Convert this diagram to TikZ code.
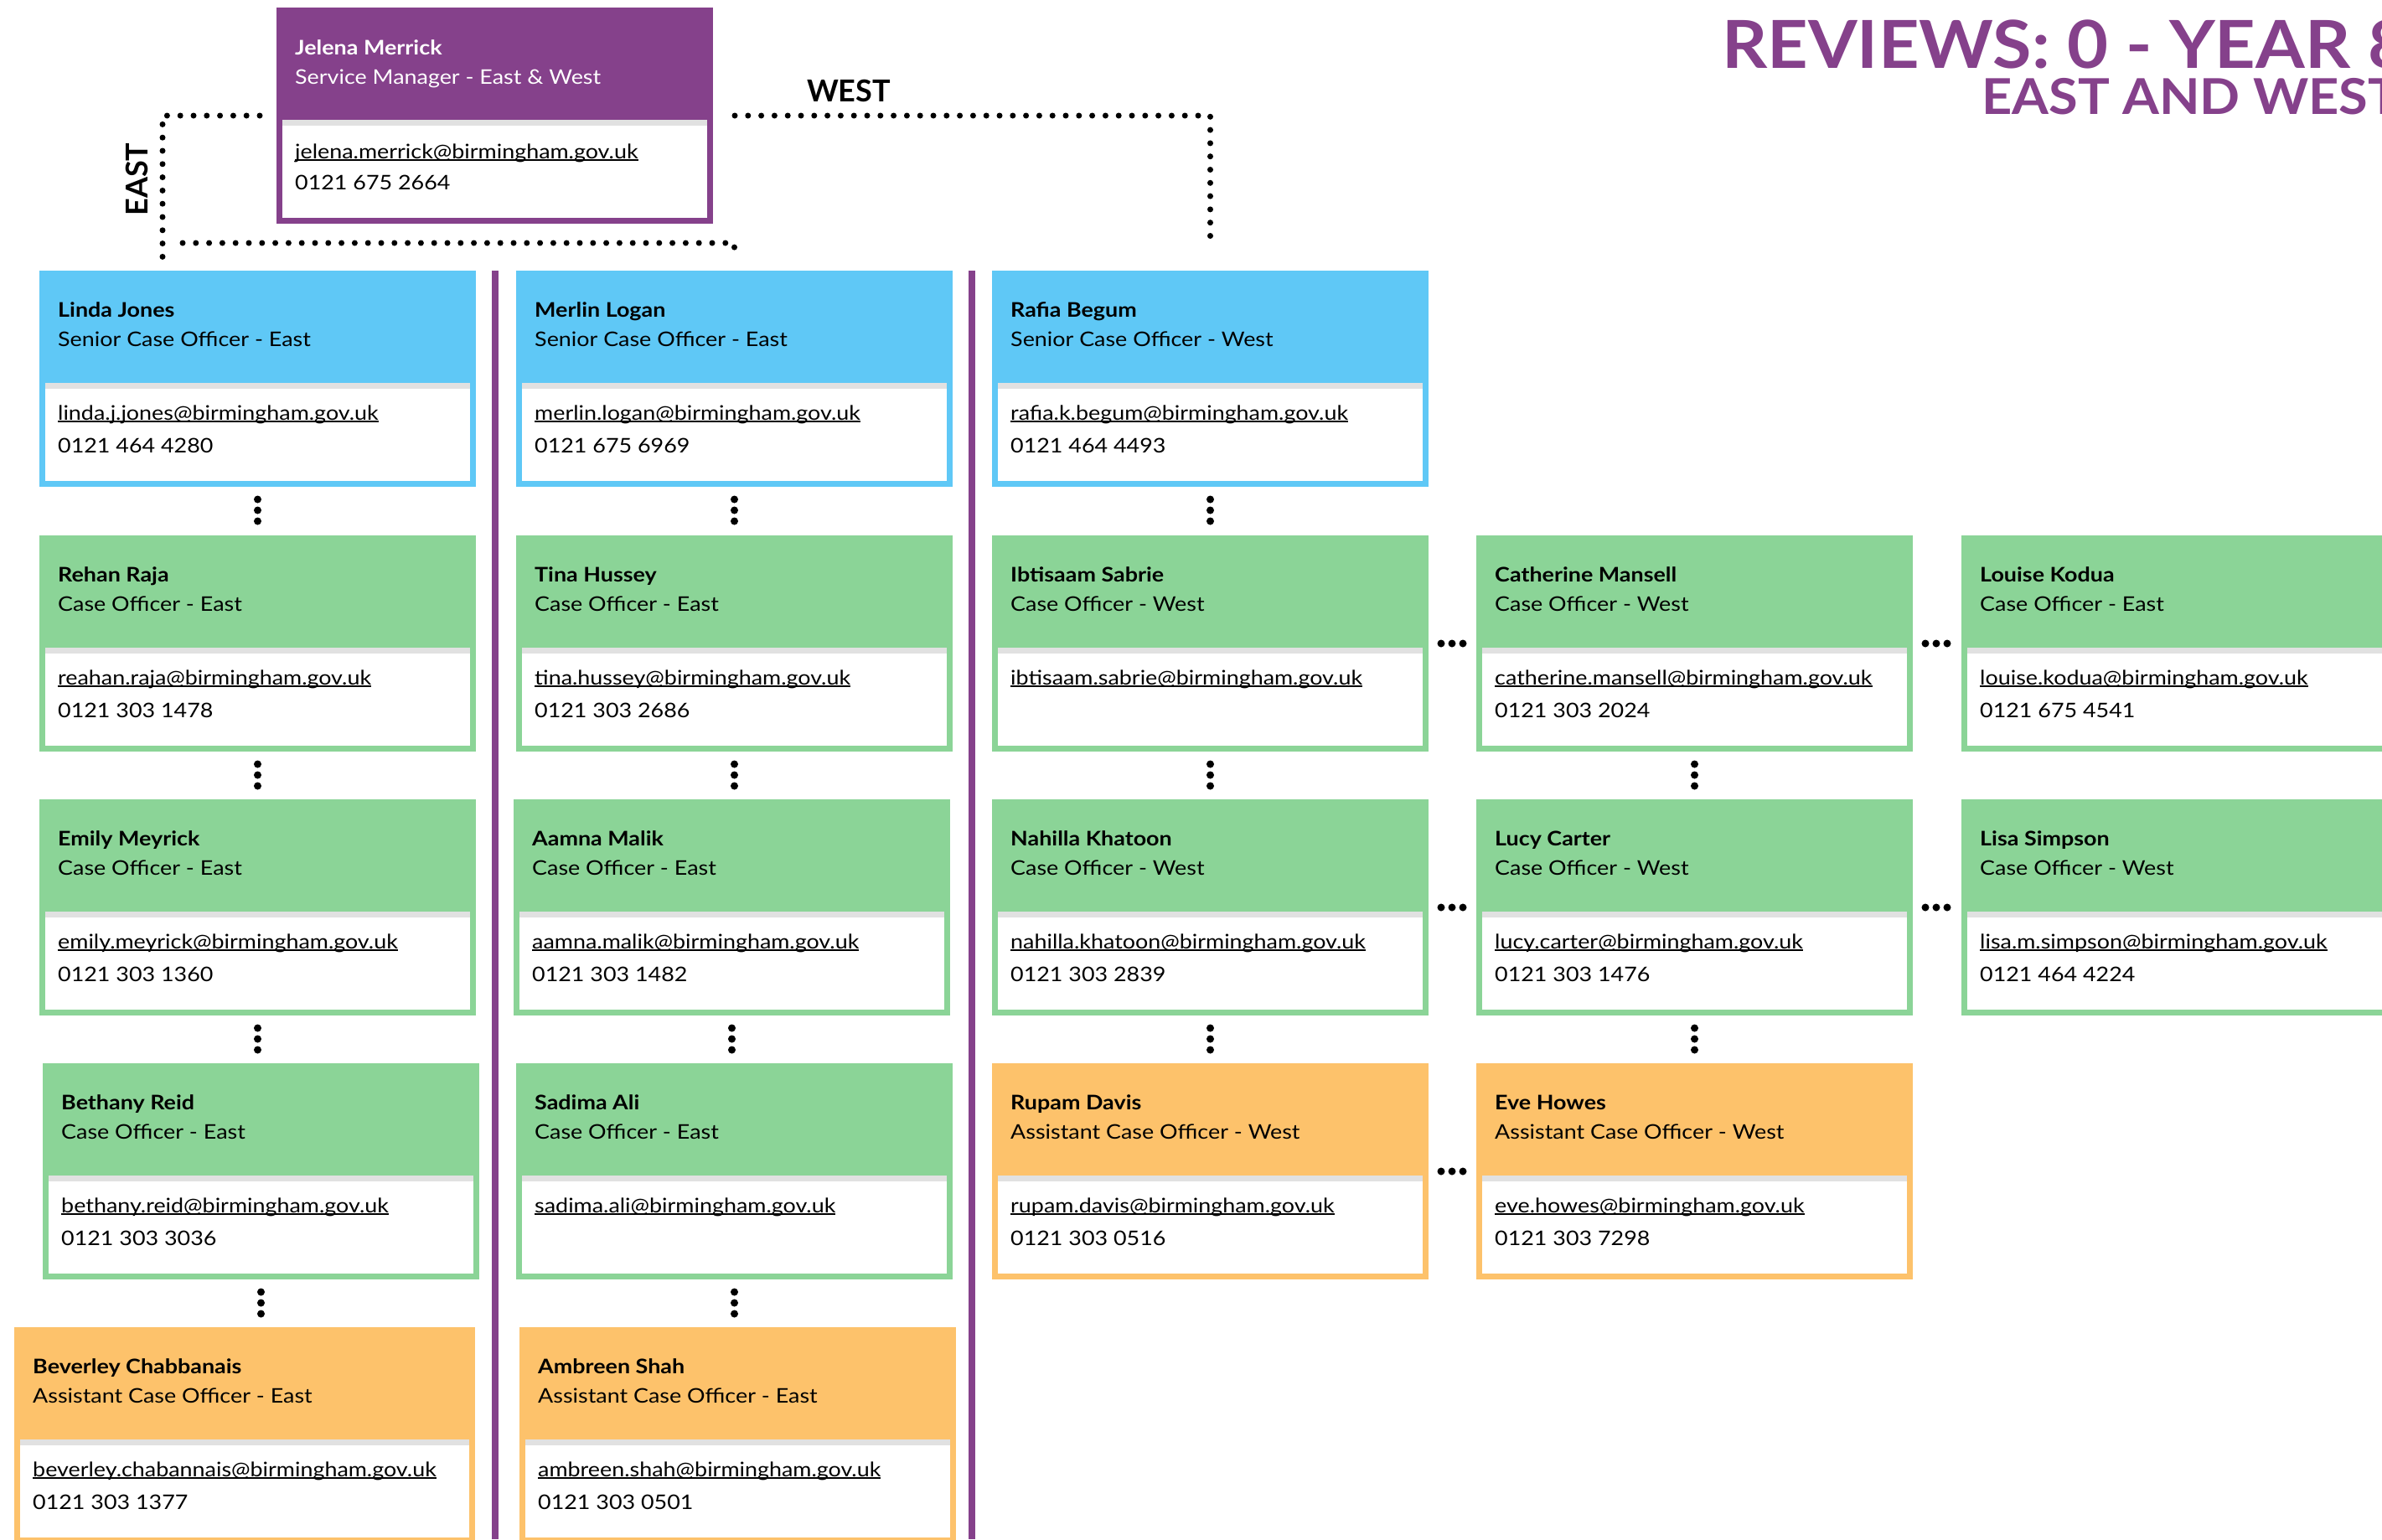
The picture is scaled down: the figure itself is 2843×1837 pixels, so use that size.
\documentclass[tikz,border=0pt]{standalone}
\usepackage{fontspec}
\setmainfont{Lato}
\newfontfamily\cardfont{Lato}[FakeStretch=1.12]
\newfontfamily\headfont{Lato}[FakeStretch=1.07]
\newcommand\mailul[1]{\setbox0\hbox{#1}\rlap{\rule[-2.5pt]{\wd0}{1.3pt}}\box0}

\begin{document}
\begin{tikzpicture}[x=1pt,y=-1pt,
  card/.style={rectangle,draw=#1,fill=white,line width=7pt,inner sep=0pt,minimum height=251pt,
    path picture={\fill[#1] (path picture bounding box.north west) rectangle ([yshift=-130pt]path picture bounding box.north east);
      \fill[strip] ([yshift=-130pt]path picture bounding box.north west) rectangle ([yshift=-137pt]path picture bounding box.north east);}},
  who/.style={anchor=base west,inner sep=0pt,font=\cardfont\fontsize{24}{28}\selectfont\bfseries},
  txt/.style={anchor=base west,inner sep=0pt,font=\cardfont\fontsize{24}{28}\selectfont},
  linkdots/.style={line width=7pt,line cap=round,dash pattern=on 0pt off 15.8pt},
  stackdots/.style={line width=9pt,line cap=round,dash pattern=on 0pt off 13pt,shorten <=15pt,shorten >=15pt},
  divider/.style={draw=purplehead,line width=8pt},
  heading/.style={anchor=base west,inner sep=0pt,text=purplehead}]
\definecolor{purplehead}{HTML}{85418B}
\definecolor{eastblue}{HTML}{5FC8F6}
\definecolor{casegreen}{HTML}{8BD497}
\definecolor{assistorange}{HTML}{FDC26B}
\definecolor{strip}{HTML}{E1E1E1}
\useasboundingbox (0,0) rectangle (2843,1837);
\clip (0,0) rectangle (2843,1837);

\draw[divider] (591,323) -- (591,1837);
\draw[divider] (1160,323) -- (1160,1837);

\node[card=purplehead,minimum width=514pt] (jelena) at (590.5,138) {};
\node[who,text=white] at ([shift={(22pt,-56pt)}]jelena.north west) {Jelena Merrick};
\node[txt,text=white] at ([shift={(22pt,-91pt)}]jelena.north west) {Service Manager - East \& West};
\node[txt] at ([shift={(22pt,-180pt)}]jelena.north west) {\mailul{jelena.merrick@birmingham.gov.uk}};
\node[txt] at ([shift={(22pt,-217pt)}]jelena.north west) {0121 675 2664};

\foreach \id/\x/\y/\cw/\col/\nm/\role/\mail/\tel in {
  linda/47/323/521/eastblue/Linda Jones/Senior Case Officer - East/linda.j.jones/0121 464 4280,
  merlin/616/323/521/eastblue/Merlin Logan/Senior Case Officer - East/merlin.logan/0121 675 6969,
  rafia/1184/323/521/eastblue/Rafia Begum/Senior Case Officer - West/rafia.k.begum/0121 464 4493,
  rehan/47/639/521/casegreen/Rehan Raja/Case Officer - East/reahan.raja/0121 303 1478,
  tina/616/639/521/casegreen/Tina Hussey/Case Officer - East/tina.hussey/0121 303 2686,
  ibtisaam/1184/639/521/casegreen/Ibtisaam Sabrie/Case Officer - West/ibtisaam.sabrie/{},
  catherine/1762/639/521/casegreen/Catherine Mansell/Case Officer - West/catherine.mansell/0121 303 2024,
  louise/2341/639/521/casegreen/Louise Kodua/Case Officer - East/louise.kodua/0121 675 4541,
  emily/47/954/521/casegreen/Emily Meyrick/Case Officer - East/emily.meyrick/0121 303 1360,
  aamna/613/954/521/casegreen/Aamna Malik/Case Officer - East/aamna.malik/0121 303 1482,
  nahilla/1184/954/521/casegreen/Nahilla Khatoon/Case Officer - West/nahilla.khatoon/0121 303 2839,
  lucy/1762/954/521/casegreen/Lucy Carter/Case Officer - West/lucy.carter/0121 303 1476,
  lisa/2341/954/521/casegreen/Lisa Simpson/Case Officer - West/lisa.m.simpson/0121 464 4224,
  bethany/51/1269/521/casegreen/Bethany Reid/Case Officer - East/bethany.reid/0121 303 3036,
  sadima/616/1269/521/casegreen/Sadima Ali/Case Officer - East/sadima.ali/{},
  rupam/1184/1269/521/assistorange/Rupam Davis/Assistant Case Officer - West/rupam.davis/0121 303 0516,
  eve/1762/1269/521/assistorange/Eve Howes/Assistant Case Officer - West/eve.howes/0121 303 7298,
  beverley/17/1584/550/assistorange/Beverley Chabbanais/Assistant Case Officer - East/beverley.chabannais/0121 303 1377,
  ambreen/620/1584/521/assistorange/Ambreen Shah/Assistant Case Officer - East/ambreen.shah/0121 303 0501}
{ \node[card=\col,minimum width=\cw pt-7pt] (\id) at (\x+\cw/2,\y+129) {};
  \node[who] at ([shift={(22pt,-55pt)}]\id.north west) {\nm};
  \node[txt] at ([shift={(22pt,-90pt)}]\id.north west) {\role};
  \node[txt] at ([shift={(22pt,-178pt)}]\id.north west) {\mailul{\mail @birmingham.gov.uk}};
  \node[txt] at ([shift={(22pt,-217pt)}]\id.north west) {\tel};}

\foreach \a/\b in {linda/rehan,rehan/emily,emily/bethany,bethany/beverley,merlin/tina,tina/aamna,aamna/sadima,sadima/ambreen,
  rafia/ibtisaam,ibtisaam/nahilla,nahilla/rupam,catherine/lucy,lucy/eve}
  \draw[stackdots] (\a.south) -- (\a.south |- \b.north);
\foreach \a/\b in {ibtisaam/catherine,catherine/louise,nahilla/lucy,lucy/lisa,rupam/eve}
  \draw[stackdots] (\a.east) -- (\a.east -| \b.west);

\coordinate (eastfoot) at (194,310);
\coordinate (eastsplit) at (218,290);
\draw[linkdots] ([xshift=-20pt]jelena.west) -| (eastfoot);
\draw[linkdots] (eastsplit) -| ([yshift=18pt]merlin.north);
\draw[linkdots] ([xshift=26pt]jelena.east) -| ([yshift=26pt]rafia.north);
\node[font=\fontsize{36}{36}\selectfont\bfseries,rotate=90] (eastlabel) at (163,214) {EAST};
\node[font=\fontsize{36}{36}\selectfont\bfseries] (westlabel) at (1013,108) {WEST};

\node[heading,font=\headfont\fontsize{79}{79}\selectfont\bfseries] (title) at (2055,81) {REVIEWS: 0 - YEAR 8};
\node[heading,font=\headfont\fontsize{59}{59}\selectfont\bfseries] (subtitle) at (2365,136) {EAST AND WEST};
\end{tikzpicture}
\end{document}
